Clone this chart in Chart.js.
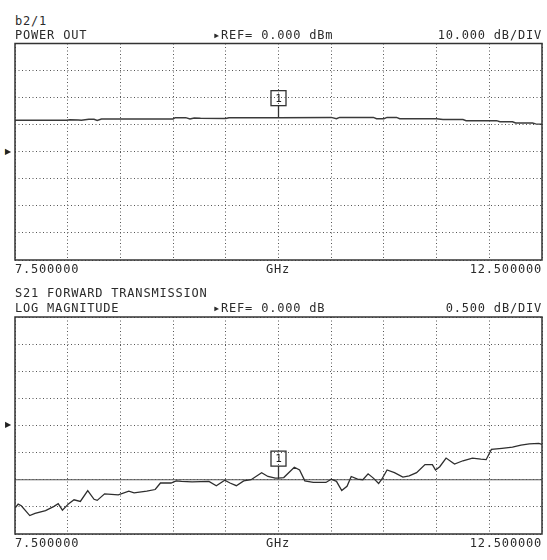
<!DOCTYPE html>
<html>
<head>
<meta charset="utf-8">
<script src="https://cdn.jsdelivr.net/npm/chart.js@4.4.0/dist/chart.umd.min.js"></script>
<style>
  body { margin: 0; background: #fff; }
  #page { position: relative; width: 547px; height: 560px; overflow: hidden; }
  canvas { position: absolute; left: 0; }
  .t { position: absolute; font: 12px "DejaVu Sans Mono", monospace; letter-spacing: 0.8px; color: #2b2b2b; line-height: 12px; white-space: pre; }
  .r { right: 5px; }
  .arrow { position: absolute; left: 5px; font: 8px "DejaVu Sans", sans-serif; color: #222; line-height: 8px; }
</style>
</head>
<body>
<div id="page">
  <canvas id="powerChart" width="547" height="240" style="top:30px"></canvas>
  <canvas id="s21Chart" width="547" height="240" style="top:305px"></canvas>

  <div class="t" style="left:15px;top:15px">b2/1</div>
  <div class="t" style="left:15px;top:29px">POWER OUT</div>
  <div class="t" style="left:213px;top:29px">▸REF= 0.000 dBm</div>
  <div class="t r" style="top:29px">10.000 dB/DIV</div>
  <div class="arrow" style="top:148px">▶</div>
  <div class="t" style="left:15px;top:263px">7.500000</div>
  <div class="t" style="left:266px;top:263px">GHz</div>
  <div class="t r" style="top:263px">12.500000</div>

  <div class="t" style="left:15px;top:287px">S21 FORWARD TRANSMISSION</div>
  <div class="t" style="left:15px;top:302px">LOG MAGNITUDE</div>
  <div class="t" style="left:213px;top:302px">▸REF= 0.000 dB</div>
  <div class="t r" style="top:302px">0.500 dB/DIV</div>
  <div class="arrow" style="top:421px">▶</div>
  <div class="t" style="left:15px;top:537px">7.500000</div>
  <div class="t" style="left:266px;top:537px">GHz</div>
  <div class="t r" style="top:537px">12.500000</div>
</div>

<script>
const FREQ_START = 7.5;
const FREQ_STOP = 12.5;
const markerFreq = 10.0;

// power out trace (dBm)
const powerFreq = [7.50, 7.99, 8.02, 8.10, 8.13, 8.20, 8.25, 8.28, 8.32, 9.00, 9.02, 9.12, 9.16, 9.20, 9.26,
  9.50, 9.53, 10.00, 10.50, 10.55, 10.58, 10.90, 10.93, 11.00, 11.03, 11.12, 11.15, 11.50, 11.56, 11.75,
  11.78, 12.07, 12.10, 12.22, 12.25, 12.41, 12.44, 12.50];
const powerVal = [11.6, 11.6, 11.8, 11.7, 11.6, 12.0, 12.0, 11.6, 12.1, 12.1, 12.6, 12.6, 12.1, 12.5, 12.4,
  12.3, 12.6, 12.6, 12.7, 12.2, 12.7, 12.7, 12.2, 12.2, 12.7, 12.7, 12.2, 12.2, 11.9, 11.9,
  11.5, 11.5, 11.1, 11.1, 10.6, 10.6, 10.3, 10.2];

// S21 log magnitude (dB)
const s21Freq = [7.50, 7.53, 7.56, 7.64, 7.69, 7.79, 7.87, 7.91, 7.95, 8.01, 8.06, 8.12, 8.19, 8.25, 8.28,
  8.35, 8.48, 8.58, 8.63, 8.75, 8.83, 8.88, 8.98, 9.03, 9.08, 9.18, 9.34, 9.41, 9.49, 9.54,
  9.60, 9.67, 9.74, 9.84, 9.90, 9.97, 10.00, 10.05, 10.15, 10.20, 10.25, 10.33, 10.45, 10.50, 10.55,
  10.60, 10.65, 10.69, 10.75, 10.80, 10.85, 10.90, 10.95, 10.98, 11.03, 11.10, 11.18, 11.24, 11.31, 11.39,
  11.46, 11.49, 11.53, 11.59, 11.67, 11.75, 11.84, 11.92, 11.97, 12.02, 12.12, 12.22, 12.30, 12.38, 12.47, 12.50];
const s21Val = [-1.52, -1.45, -1.48, -1.66, -1.62, -1.57, -1.49, -1.44, -1.56, -1.44, -1.37, -1.40, -1.20, -1.36, -1.38,
  -1.26, -1.28, -1.21, -1.24, -1.21, -1.18, -1.06, -1.06, -1.02, -1.03, -1.04, -1.03, -1.11, -1.01, -1.06,
  -1.11, -1.02, -1.00, -0.87, -0.94, -0.97, -0.97, -0.96, -0.77, -0.82, -1.02, -1.05, -1.05, -0.99, -1.03,
  -1.20, -1.12, -0.94, -0.99, -1.00, -0.89, -0.97, -1.07, -0.99, -0.82, -0.87, -0.95, -0.93, -0.87, -0.72,
  -0.72, -0.82, -0.76, -0.60, -0.71, -0.65, -0.60, -0.62, -0.63, -0.44, -0.42, -0.40, -0.36, -0.34, -0.33, -0.35];

// flat reference line in the lower panel
const s21RefFreq = [7.5, 12.5];
const s21RefVal = [-1.0, -1.0];

const pts = (xs, ys) => xs.map((x, i) => ({ x: x, y: ys[i] }));

// solid frame round the plot area
const framePlugin = {
  id: 'frame',
  afterDraw(chart) {
    const { ctx, chartArea: a } = chart;
    ctx.save();
    ctx.strokeStyle = '#333';
    ctx.lineWidth = 1.5;
    ctx.strokeRect(a.left, a.top, a.right - a.left, a.bottom - a.top);
    ctx.restore();
  }
};

// marker 1 box with stem
const markerPlugin = {
  id: 'marker1',
  afterDatasetsDraw(chart) {
    const ds = chart.data.datasets[0].data;
    const p = ds.find(d => d.x === markerFreq);
    if (!p) return;
    const px = chart.scales.x.getPixelForValue(p.x);
    const py = chart.scales.y.getPixelForValue(p.y);
    const ctx = chart.ctx;
    ctx.save();
    ctx.strokeStyle = '#333';
    ctx.lineWidth = 1.3;
    ctx.beginPath();
    ctx.moveTo(px, py);
    ctx.lineTo(px, py - 12);
    ctx.stroke();
    ctx.strokeRect(px - 7.5, py - 27, 15, 15);
    ctx.fillStyle = '#222';
    ctx.font = '11px "DejaVu Sans Mono"';
    ctx.textAlign = 'center';
    ctx.textBaseline = 'middle';
    ctx.fillText('1', px, py - 19);
    ctx.restore();
  }
};

const makePanel = (id, datasets, yMin, yMax, yStep, pad) => {
  const ctxt = document.getElementById(id).getContext('2d');
  return new Chart(ctxt, {
    type: 'line',
    data: { datasets: datasets },
    options: {
      responsive: false,
      animation: false,
      layout: { padding: pad },
      plugins: { legend: { display: false }, tooltip: { enabled: false } },
      elements: { point: { radius: 0 }, line: { tension: 0 } },
      scales: {
        x: {
          type: 'linear', min: FREQ_START, max: FREQ_STOP,
          ticks: { display: false, stepSize: 0.5 },
          grid: { color: '#555', lineWidth: 1, drawTicks: false },
          border: { display: false, dash: [1, 2.5] },
          afterFit: s => { s.height = 0; }
        },
        y: {
          min: yMin, max: yMax,
          ticks: { display: false, stepSize: yStep },
          grid: { color: '#555', lineWidth: 1, drawTicks: false },
          border: { display: false, dash: [1, 2.5] },
          afterFit: s => { s.width = 0; }
        }
      }
    },
    plugins: [framePlugin, markerPlugin]
  });
};

const setup = () => {
  makePanel('powerChart', [{
    data: pts(powerFreq, powerVal),
    borderColor: '#3a3a3a',
    borderWidth: 1.5
  }], -40, 40, 10, { left: 15, right: 5, top: 13.5, bottom: 10 });

  makePanel('s21Chart', [{
    data: pts(s21Freq, s21Val),
    borderColor: '#2e2e2e',
    borderWidth: 1.3
  }, {
    data: pts(s21RefFreq, s21RefVal),
    borderColor: '#555',
    borderWidth: 1.2
  }], -2, 2, 0.5, { left: 15, right: 5, top: 12, bottom: 11 });
};

window.addEventListener('DOMContentLoaded', setup);
</script>
</body>
</html>
